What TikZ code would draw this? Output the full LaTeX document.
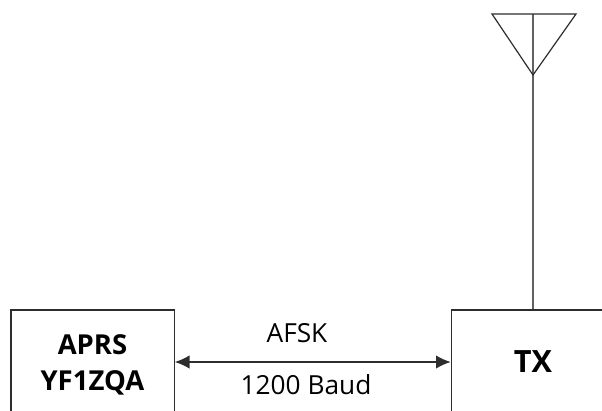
\documentclass[tikz,border=0pt]{standalone}
\usepackage{fontspec}
\setmainfont{Open Sans}
\usetikzlibrary{arrows.meta}
\definecolor{linegray}{RGB}{45,45,45}

\begin{document}
\begin{tikzpicture}[
    x=0.75pt,
    y=-0.75pt,
    blockbox/.style={
        draw=linegray,
        line width=1pt,
        minimum width=122.5pt,
        minimum height=78pt,
        align=center,
        inner sep=0pt,
        font=\fontsize{20.6}{27.5}\selectfont\bfseries
    },
    lbl/.style={
        font=\fontsize{19.7}{23}\selectfont,
        inner sep=0pt
    },
    arr/.style={
        {Latex[length=11pt,width=10pt]}-{Latex[length=11pt,width=10pt]},
        line width=0.9pt,
        linegray
    },
    ant/.style={
        draw=linegray,
        line width=0.9pt
    },
    mast/.style={
        draw=linegray!75,
        line width=1.4pt
    }
]

% page size
\useasboundingbox (0,0) rectangle (602,410);
\clip (0,0) rectangle (602,410);

% blocks
\node[blockbox,text depth=0pt] (aprs) at (92.5,362) {\raisebox{-1pt}{APRS}\\\raisebox{-1pt}{YF1ZQA}};
\node[blockbox,font=\fontsize{23}{27.5}\selectfont\bfseries] (tx) at (533,362) {TX};

% link between blocks
\draw[arr] (aprs.east) -- (tx.west);
\node[lbl] (afsk) at (297,333) {AFSK};
\node[lbl] (baud) at (306,385) {1200 Baud};

% antenna
\coordinate (antleft) at (492,14);
\coordinate (antright) at (576,14);
\coordinate (anttip) at (533,75);
\coordinate (anttop) at (533,14);
\draw[mast] (tx.north) -- (anttop);
\draw[ant] (antleft) -- (antright) -- (anttip) -- cycle;

\end{tikzpicture}
\end{document}
